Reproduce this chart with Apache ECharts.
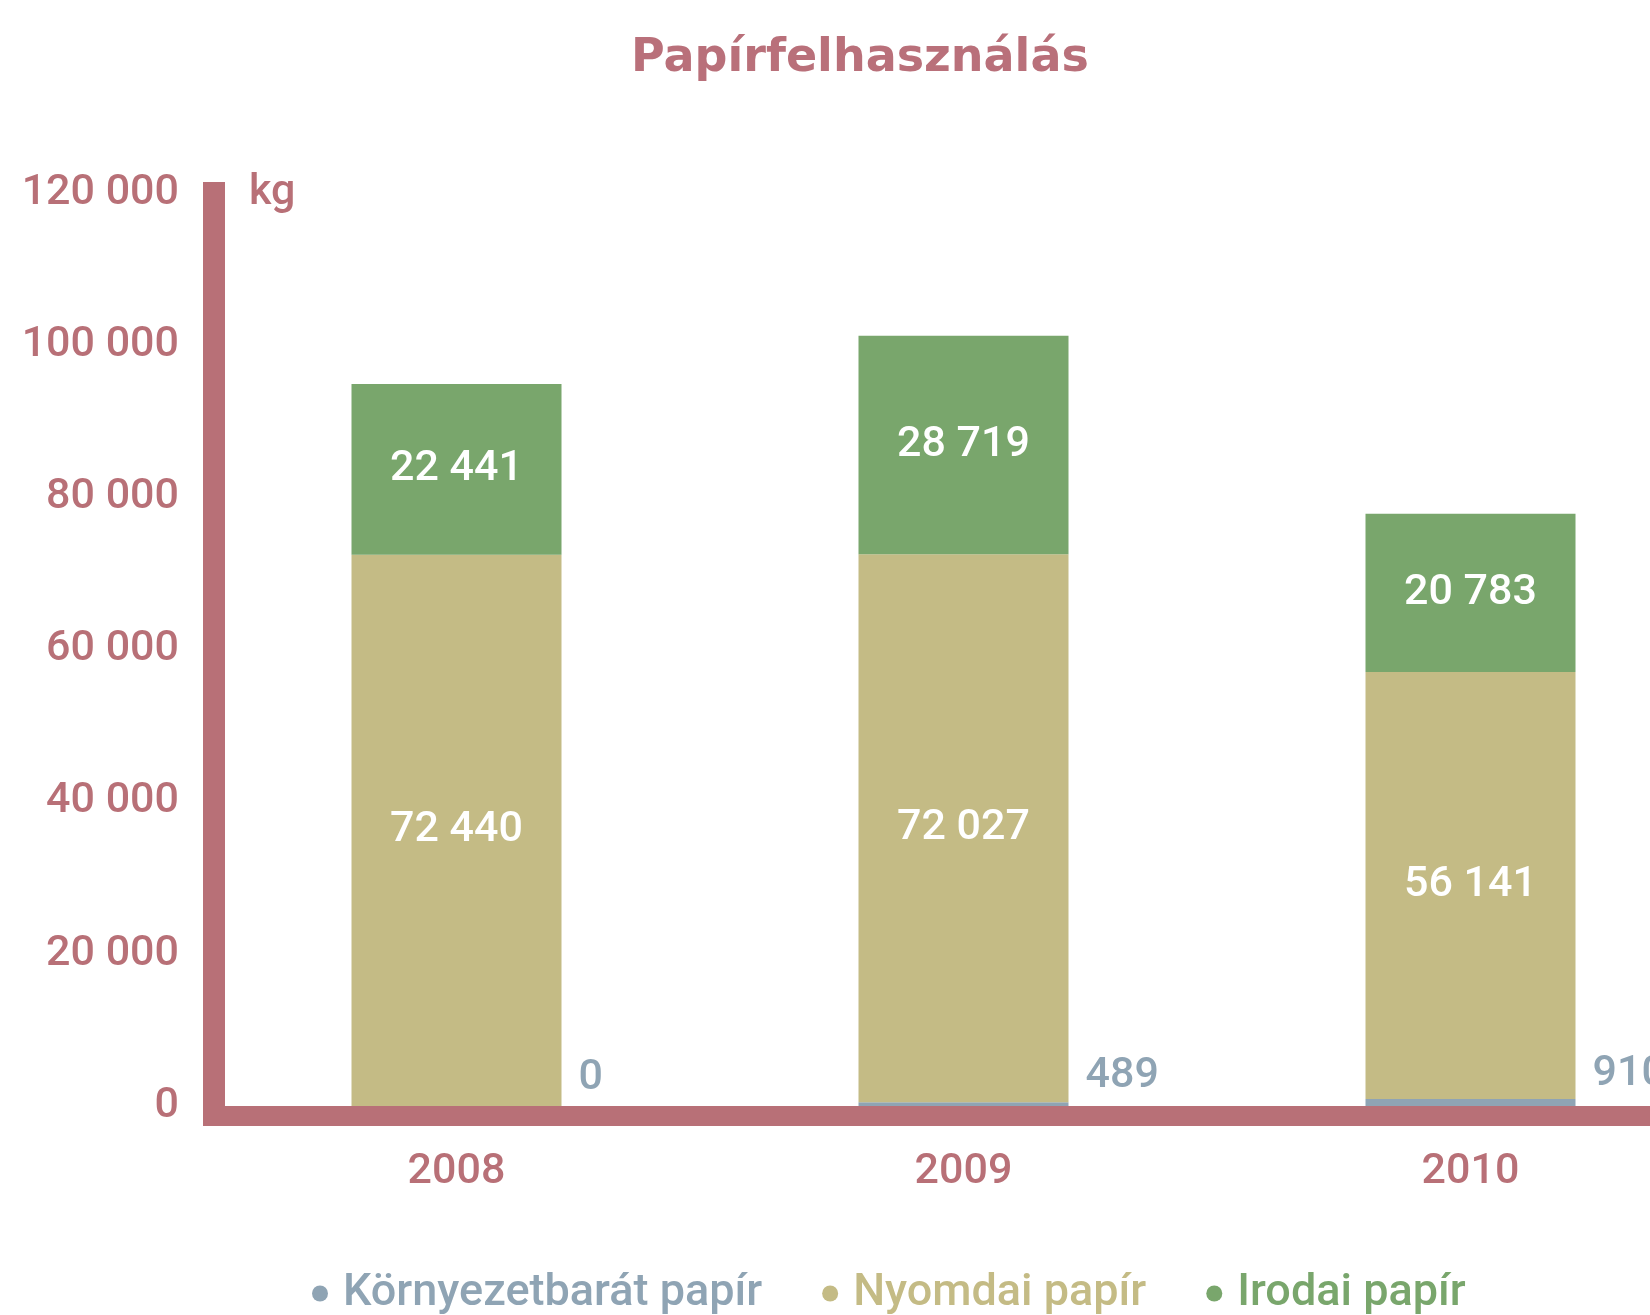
<!DOCTYPE html>
<html>
<head>
<meta charset="utf-8">
<script src="https://cdn.jsdelivr.net/npm/echarts@6/dist/echarts.min.js"></script>
<style>html,body{margin:0;padding:0;background:#fff}#c{width:1650px;height:1315px}</style>
</head>
<body>
<div id="c"></div>
<script>
const years = ['2008', '2009', '2010'];
const kornyezetbarat = [0, 489, 910];
const nyomdai = [72440, 72027, 56141];
const irodai = [22441, 28719, 20783];
const seriesNames = ['Környezetbarát papír', 'Nyomdai papír', 'Irodai papír'];
const yTicks = { min: 0, max: 120000, interval: 20000 };

const colBlue = '#8fa4b4', colTan = '#c4bb85', colGreen = '#79a66c', colAxis = '#b87077';
const condensed = 'Roboto, "Liberation Sans", sans-serif';
const fmt = v => String(v).replace(/\B(?=(\d{3})+(?!\d))/g, ' ');

const chart = echarts.init(document.getElementById('c'));
chart.setOption({
  animation: false,
  backgroundColor: '#fff',
  title: {
    text: 'Papírfelhasználás',
    left: 626, top: 31,
    textStyle: { fontFamily: '"DejaVu Sans", sans-serif', fontWeight: 'bold', fontSize: 46, color: '#b9707a' }
  },
  legend: {
    left: 307, top: 1266, width: 1400,
    itemWidth: 16, itemHeight: 16, itemGap: 60, icon: 'circle',
    textStyle: { fontFamily: condensed, fontWeight: 500, fontSize: 45, padding: [0, 0, 0, 10] },
    data: [
      { name: seriesNames[0], itemStyle: { color: colBlue }, textStyle: { color: colBlue } },
      { name: seriesNames[1], itemStyle: { color: colTan }, textStyle: { color: colTan } },
      { name: seriesNames[2], itemStyle: { color: colGreen }, textStyle: { color: colGreen } }
    ]
  },
  grid: { left: 203, right: -74, top: 193, bottom: 209, containLabel: false, outerBoundsMode: 'none' },
  xAxis: {
    type: 'category', data: years, offset: 10,
    axisLine: { onZero: false, lineStyle: { color: colAxis, width: 20, cap: 'butt' } },
    axisTick: { show: false },
    axisLabel: { color: colAxis, fontFamily: condensed, fontWeight: 500, fontSize: 43, margin: 35 }
  },
  yAxis: {
    type: 'value', min: yTicks.min, max: yTicks.max, interval: yTicks.interval, offset: -11,
    name: 'kg', nameLocation: 'end', nameGap: 0,
    nameTextStyle: { color: colAxis, fontFamily: condensed, fontWeight: 500, fontSize: 43, align: 'left', verticalAlign: 'middle', padding: [0, 0, 0, 35] },
    axisLine: { show: true, onZero: false, lineStyle: { color: colAxis, width: 22, cap: 'square' } },
    axisTick: { show: false },
    splitLine: { show: false },
    axisLabel: { color: colAxis, fontFamily: condensed, fontWeight: 500, fontSize: 43, margin: 35, formatter: v => fmt(v) }
  },
  series: [
    {
      name: seriesNames[0], type: 'bar', stack: 'total', data: kornyezetbarat, barWidth: 210,
      itemStyle: { color: colBlue },
      label: { show: true, position: 'right', distance: 17, offset: [0, -28], color: colBlue,
        fontFamily: condensed, fontWeight: 500, fontSize: 43, formatter: p => fmt(p.value) }
    },
    {
      name: seriesNames[1], type: 'bar', stack: 'total', data: nyomdai, barWidth: 210,
      itemStyle: { color: colTan },
      label: { show: true, position: 'inside', color: '#fff', fontFamily: condensed, fontWeight: 500, fontSize: 43, formatter: p => fmt(p.value) }
    },
    {
      name: seriesNames[2], type: 'bar', stack: 'total', data: irodai, barWidth: 210,
      itemStyle: { color: colGreen },
      label: { show: true, position: 'inside', color: '#fff', fontFamily: condensed, fontWeight: 500, fontSize: 43, formatter: p => fmt(p.value) }
    }
  ]
});
</script>
</body>
</html>
